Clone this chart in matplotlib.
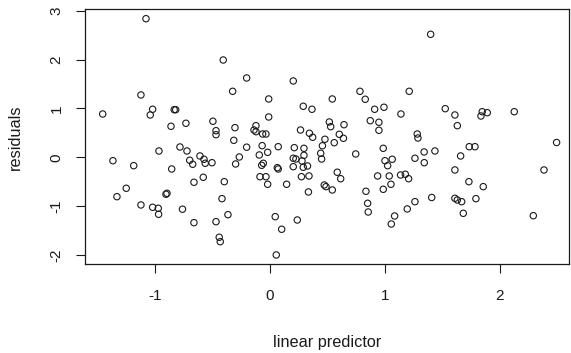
import numpy as np
import matplotlib.pyplot as plt

# values (linear predictor, residual)
lin_pred = [
    -1.080, -1.124, -1.457, -1.022, -1.043, -0.834, -0.821, -0.862, -0.732, -0.967,
    -0.784, -0.723, -0.699, -1.368, -1.187, -0.856, -1.252, -1.333, -0.897, -0.906,
    -1.124, -1.022, -0.973, -0.970, -0.762, -0.407, -0.203, -0.325, 0.203, -0.011,
    0.290, 0.366, -0.497, -0.470, -0.470, -0.305, -0.122, -0.139, -0.122, -0.064,
    -0.035, -0.011, 0.266, 0.344, -0.315, -0.203, -0.068, 0.072, 0.212, 0.296,
    -0.673, -0.610, -0.575, -0.564, -0.505, -0.267, -0.299, -0.020, -0.093, -0.058,
    -0.072, 0.064, 0.072, -0.087, -0.035, -0.020, 0.145, 0.203, 0.226, 0.296,
    0.279, 0.203, 0.290, 0.327, 0.274, 0.340, 0.335, -0.662, -0.581, -0.398,
    -0.418, -0.662, -0.470, -0.366, -0.442, -0.433, 0.046, 0.102, 0.238, 0.055,
    1.400, 0.784, 0.830, 0.543, 1.213, 0.912, 0.993, 1.141, 0.874, 0.949,
    0.949, 0.517, 0.529, 0.645, 0.372, 0.604, 0.640, 0.479, 0.560, 0.457,
    1.283, 1.289, 0.987, 1.343, 1.437, 0.442, 0.450, 0.473, 0.488, 0.543,
    0.586, 0.616, 0.747, 1.002, 1.065, 1.025, 0.938, 1.039, 0.987, 1.054,
    1.138, 1.179, 1.208, 1.263, 1.344, 0.836, 0.851, 0.856, 1.086, 1.057,
    1.196, 1.263, 1.409, 1.527, 1.611, 1.632, 1.849, 1.893, 1.838, 2.128,
    2.497, 1.736, 1.786, 1.661, 1.611, 1.733, 1.858, 1.794, 1.611, 1.632,
    1.670, 1.684, 2.387, 2.294,
]
resid = [
    2.840, 1.277, 0.887, 0.984, 0.867, 0.975, 0.975, 0.635, 0.697, 0.129,
    0.211, 0.129, -0.061, -0.070, -0.172, -0.240, -0.635, -0.807, -0.738, -0.758,
    -0.977, -1.025, -1.045, -1.168, -1.064, 1.994, 1.625, 1.352, 1.564, 1.195,
    1.045, 0.984, 0.738, 0.545, 0.463, 0.607, 0.648, 0.559, 0.525, 0.477,
    0.477, 0.826, 0.559, 0.492, 0.348, 0.207, 0.238, 0.217, 0.197, 0.184,
    -0.143, 0.027, -0.041, -0.123, -0.111, 0.006, -0.137, 0.102, 0.047, -0.123,
    -0.164, -0.213, -0.240, -0.398, -0.398, -0.553, -0.553, -0.020, -0.035, 0.041,
    -0.076, -0.193, -0.205, -0.178, -0.398, -0.383, -0.711, -0.512, -0.410, -0.500,
    -0.848, -1.340, -1.320, -1.176, -1.639, -1.730, -1.217, -1.475, -1.285, -2.002,
    2.520, 1.352, 1.189, 1.195, 1.352, 0.984, 1.025, 0.887, 0.750, 0.717,
    0.553, 0.723, 0.627, 0.668, 0.410, 0.471, 0.389, 0.369, 0.299, 0.236,
    0.477, 0.395, 0.184, 0.109, 0.129, 0.082, -0.035, -0.568, -0.602, -0.670,
    -0.307, -0.439, 0.068, -0.070, -0.041, -0.172, -0.383, -0.383, -0.656, -0.553,
    -0.363, -0.348, -0.439, -0.020, -0.111, -0.697, -0.943, -1.121, -1.203, -1.367,
    -1.059, -0.910, -0.824, 0.996, 0.867, 0.648, 0.934, 0.914, 0.846, 0.934,
    0.303, 0.217, 0.217, 0.027, -0.260, -0.500, -0.602, -0.848, -0.840, -0.875,
    -0.910, -1.148, -0.260, -1.197,
]
x_ticks = [-1, 0, 1, 2]
y_ticks = [-2, -1, 0, 1, 2, 3]

plt.rcParams['font.family'] = ['Liberation Sans', 'DejaVu Sans']
ink = '#1a1a1a'

fig = plt.figure(figsize=(5.71, 3.53), dpi=100)
ax = fig.add_axes([0.1489, 0.2513, 0.8476, 0.7224])
ax.scatter(lin_pred, resid, s=21, facecolors='none', edgecolors=ink, linewidths=0.8)

ax.set_xlim(-1.611, 2.605)
ax.set_ylim(-2.193, 3.033)
ax.set_xticks(x_ticks)
ax.set_yticks(y_ticks)
ax.set_xticklabels([str(v) for v in x_ticks])
ax.set_yticklabels([str(v) for v in y_ticks], rotation=90, va='center')
ax.tick_params(axis='x', length=6.5, width=0.8, pad=11, labelsize=11, colors=ink)
ax.tick_params(axis='y', length=6.5, width=0.8, pad=9, labelsize=11, colors=ink)
for sp in ax.spines.values():
    sp.set_linewidth(0.9)
    sp.set_color(ink)

ax.set_xlabel('linear predictor', fontsize=11.7, color=ink, labelpad=23)
ax.set_ylabel('residuals', fontsize=11.7, color=ink, labelpad=19)

fig.savefig('out.png', dpi=100)
